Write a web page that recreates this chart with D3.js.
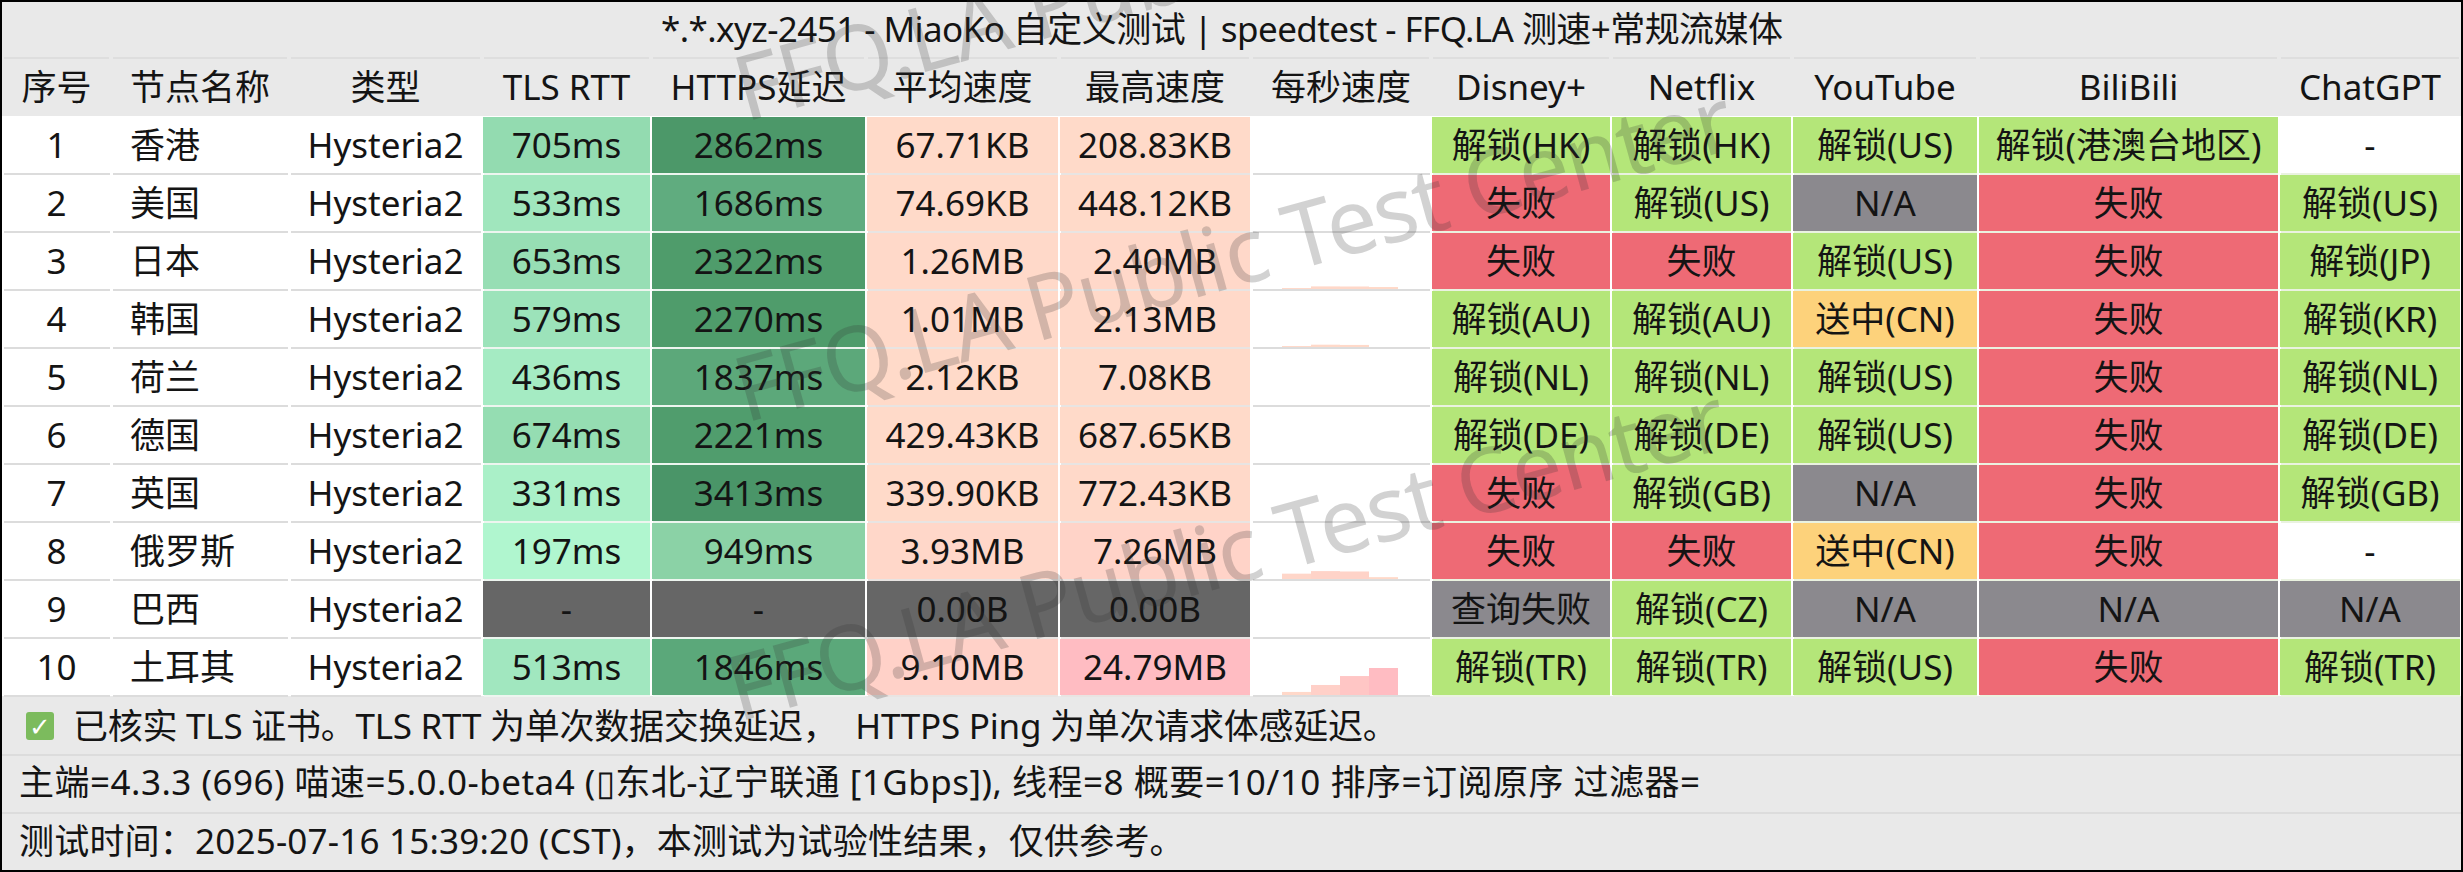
<!DOCTYPE html>
<html><head><meta charset="utf-8">
<script src="https://cdn.jsdelivr.net/npm/d3@7"></script>
<style>html,body{margin:0;padding:0;background:#000}svg{display:block}
text{font-family:"Noto Sans","Noto Sans CJK SC",sans-serif;fill:#141414;text-spacing-trim:space-all}</style>
</head><body><svg id="c" width="2463" height="872"></svg>
<script>
const title="*.*.xyz-2451 - MiaoKo 自定义测试 | speedtest - FFQ.LA 测速+常规流媒体";
const headers=["序号","节点名称","类型","TLS RTT","HTTPS延迟","平均速度","最高速度","每秒速度","Disney+","Netflix","YouTube","BiliBili","ChatGPT"];
const ids=["1","2","3","4","5","6","7","8","9","10"];
const names=["香港","美国","日本","韩国","荷兰","德国","英国","俄罗斯","巴西","土耳其"];
const types=["Hysteria2","Hysteria2","Hysteria2","Hysteria2","Hysteria2","Hysteria2","Hysteria2","Hysteria2","Hysteria2","Hysteria2"];
const tlsRtt=[705,533,653,579,436,674,331,197,null,513];
const httpsDelay=[2862,1686,2322,2270,1837,2221,3413,949,null,1846];
const avgSpeed=["67.71KB","74.69KB","1.26MB","1.01MB","2.12KB","429.43KB","339.90KB","3.93MB","0.00B","9.10MB"];
const maxSpeed=["208.83KB","448.12KB","2.40MB","2.13MB","7.08KB","687.65KB","772.43KB","7.26MB","0.00B","24.79MB"];
// per-second speed in MB
const perSecond=[
 [0,0,0,0,0,0],[0,0,0,0,0,0],[0,0.9,2.4,2.3,1.8,0],[0,0.9,2.13,1.9,0,0],[0,0,0,0,0,0],
 [0,0,0,0,0,0],[0,0,0,0,0,0],[0,4.9,7.26,6.9,1.7,0],[0,0,0,0,0,0],[0,2.8,9.2,17.4,24.79,0]];
const disney=["解锁(HK)","失败","失败","解锁(AU)","解锁(NL)","解锁(DE)","失败","失败","查询失败","解锁(TR)"];
const netflix=["解锁(HK)","解锁(US)","失败","解锁(AU)","解锁(NL)","解锁(DE)","解锁(GB)","失败","解锁(CZ)","解锁(TR)"];
const youtube=["解锁(US)","N/A","解锁(US)","送中(CN)","解锁(US)","解锁(US)","N/A","送中(CN)","N/A","解锁(US)"];
const bilibili=["解锁(港澳台地区)","失败","失败","失败","失败","失败","失败","失败","N/A","失败"];
const chatgpt=["-","解锁(US)","解锁(JP)","解锁(KR)","解锁(NL)","解锁(DE)","解锁(GB)","-","N/A","解锁(TR)"];
const footers=["已核实 TLS 证书。TLS RTT 为单次数据交换延迟，  HTTPS Ping 为单次请求体感延迟。",
 "主端=4.3.3 (696) 喵速=5.0.0-beta4 (\u25AF东北-辽宁联通 [1Gbps]), 线程=8 概要=10/10 排序=订阅原序 过滤器=",
 "测试时间：2025-07-16 15:39:20 (CST)，本测试为试验性结果，仅供参考。"];
const watermark="FFQ.LA Public Test Center";

// layout
const W=2463,H=872,FS=35;
const edges=[2,111,289,482,651,866,1059,1251,1431,1611,1792,1978,2279,2461];
const rowY=d3.scaleBand().domain(d3.range(10)).range([116,696]);
const footY=d3.scaleBand().domain(d3.range(3)).range([696,870]);

// colour scales
const latency=d3.scaleLinear().domain([197,513,705,949,1686,2270,3413])
  .range(["#b0f6cf","#a1e7bf","#93dbb0","#8bd2a6","#60ac7f","#4f9c6b","#4a9568"]);
const speedC=d3.scaleLinear().domain([0,3,8,25]).range(["#ffdac9","#ffd8c9","#ffd2c8","#ffbcc2"]);
const toMB=s=>{const v=parseFloat(s);return s.endsWith("MB")?v:s.endsWith("KB")?v/1024:0;};
const mediaC=s=>s==="-"?"#ffffff":s.startsWith("解锁")?"#b4e679":s.startsWith("送中")?"#fdd27b":s==="失败"?"#ee6a75":"#8b898e";

const columns=[
 {v:ids,a:"m",line:"#dcdcdc"},{v:names,a:"s",line:"#dcdcdc"},{v:types,a:"m",line:"#dcdcdc"},
 {v:tlsRtt,f:d=>d==null?"#666666":latency(d),t:d=>d==null?"-":d+"ms",a:"m",line:"#edf5ef"},
 {v:httpsDelay,f:d=>d==null?"#666666":latency(d),t:d=>d==null?"-":d+"ms",a:"m",line:"#edf5ef"},
 {v:avgSpeed,f:d=>d==="0.00B"?"#666666":speedC(toMB(d)),a:"m",line:"#e8e4e2"},
 {v:maxSpeed,f:d=>d==="0.00B"?"#666666":speedC(toMB(d)),a:"m",line:"#e8e4e2"},
 {spark:perSecond,line:"#dcdcdc"},
 {v:disney,f:mediaC,a:"m",line:"#eaf2e0"},{v:netflix,f:mediaC,a:"m",line:"#eaf2e0"},
 {v:youtube,f:mediaC,a:"m",line:"#eaf2e0"},{v:bilibili,f:mediaC,a:"m",line:"#eaf2e0"},{v:chatgpt,f:mediaC,a:"m",line:"#eaf2e0"}];
columns.forEach((c,i)=>{c.x0=edges[i];c.x1=edges[i+1];});

const svg=d3.select("#c");
svg.append("rect").attr("x",2).attr("y",2).attr("width",W-4).attr("height",H-4).attr("fill","#ffffff");
svg.append("rect").attr("x",2).attr("y",2).attr("width",W-4).attr("height",114).attr("fill","#e9e9e9");
svg.append("rect").attr("x",2).attr("y",696).attr("width",W-4).attr("height",174).attr("fill","#e9e9e9");

// separators
const rule=(x1,x2,y,c)=>svg.append("line").attr("x1",x1).attr("x2",x2).attr("y1",y).attr("y2",y).attr("stroke",c).attr("stroke-width",2);
columns.forEach(c=>rule(c.x0+2,c.x1-2,58,"#dedede"));
[755,813].forEach(y=>rule(2,W-2,y,"#dcdcdc"));

// title & headers
svg.append("text").attr("x",1222).attr("y",42).attr("text-anchor","middle").attr("font-size",FS)
  .attr("textLength",1122).attr("lengthAdjust","spacing").text(title);
svg.append("g").selectAll("text").data(headers).join("text")
 .attr("x",(d,i)=>(columns[i].x0+columns[i].x1)/2).attr("y",100).attr("text-anchor","middle").attr("font-size",FS).text(d=>d);

// body
columns.forEach(c=>{
 const g=svg.append("g");
 const rows=d3.range(10);
 g.selectAll("line").data(rows).join("line")
  .attr("x1",c.x0+2).attr("x2",c.x1-1).attr("y1",r=>rowY(r)+rowY.bandwidth()).attr("y2",r=>rowY(r)+rowY.bandwidth())
  .attr("stroke",c.line).attr("stroke-width",2);
 if(c.spark){
  const bx=d3.scaleBand().domain(d3.range(6)).range([1253,1427]);
  const bh=d3.scaleLinear().domain([0,24.79]).range([0,27]);
  rows.forEach(r=>{
   g.append("g").selectAll("rect").data(c.spark[r]).join("rect")
    .attr("x",(d,i)=>bx(i)).attr("width",bx.bandwidth())
    .attr("y",d=>rowY(r)+rowY.bandwidth()-1-bh(d)).attr("height",d=>bh(d))
    .attr("fill",d=>speedC(d));
  });
  return;
 }
 if(c.f) g.selectAll("rect").data(rows).join("rect")
  .attr("x",c.x0+1).attr("width",c.x1-c.x0-2)
  .attr("y",r=>rowY(r)+1).attr("height",rowY.bandwidth()-2)
  .attr("fill",r=>c.f(c.v[r]));
 const t=c.t||(d=>d);
 g.selectAll("text").data(rows).join("text")
  .attr("x",c.a==="s"?130:(c.x0+c.x1)/2).attr("y",r=>rowY(r)+rowY.bandwidth()/2+13)
  .attr("text-anchor",c.a==="s"?"start":"middle").attr("font-size",FS).text(r=>t(c.v[r]));
});

// footer
svg.append("rect").attr("x",26).attr("y",712).attr("width",28).attr("height",28).attr("rx",3).attr("fill","#7cbb5d");
svg.append("text").attr("x",40).attr("y",736).attr("text-anchor","middle").attr("font-size",26)
  .style("font-family","'DejaVu Sans'").style("fill","#ffffff").text("\u2713");
const footBase=[14,12,13], footSpacing=[-0.25,0.5,0.2], footX=[73,19,19];
svg.append("g").selectAll("text").data(footers).join("text")
 .attr("x",(d,i)=>footX[i]).attr("y",(d,i)=>footY(i)+footY.bandwidth()/2+footBase[i])
 .attr("font-size",FS).style("white-space","pre").style("letter-spacing",(d,i)=>footSpacing[i]+"px").text(d=>d);

// watermark
svg.append("g").selectAll("text").data([[745,122],[745,423],[738,722]]).join("text")
 .attr("transform",d=>`translate(${d[0]},${d[1]}) rotate(-15.5)`)
 .attr("font-size",90).style("letter-spacing","-1.5px")
 .style("fill","rgba(50,50,50,0.22)").text(watermark);
</script></body></html>
